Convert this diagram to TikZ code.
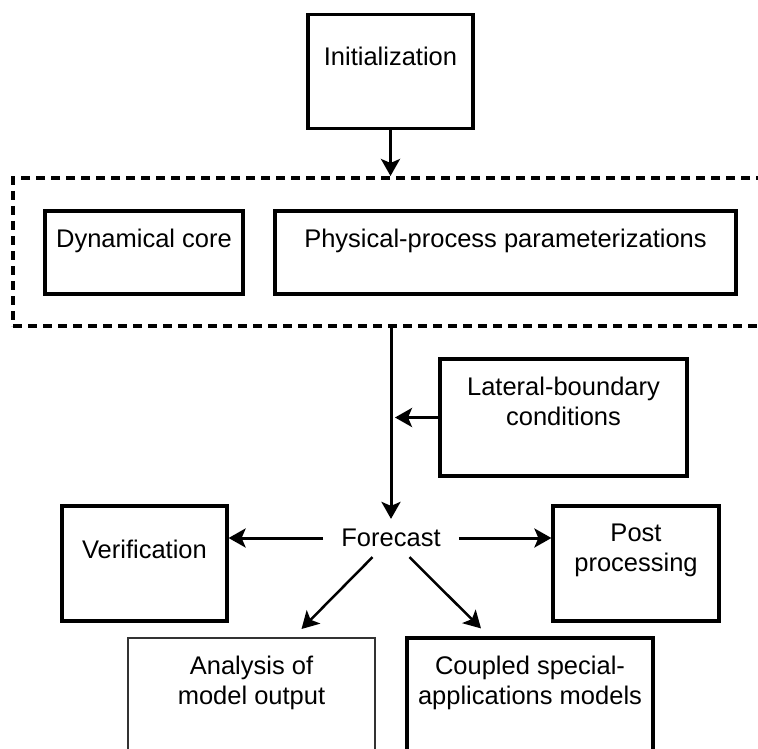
\documentclass[tikz,border=0pt]{standalone}
\usepackage{fontspec}
\setmainfont{Liberation Sans}
\usetikzlibrary{arrows.meta, calc}
\tikzset{%
>={Stealth[length=17pt,width=19pt,inset=4pt]},
% Specifications for style of nodes:
base/.style = {draw, line width=3.2pt, inner sep=0pt},
thinbase/.style = {draw=black!80, line width=2pt, inner sep=0pt},
group/.style = {draw, line width=4pt, dash pattern=on 9pt off 6pt, inner sep=0pt},
caption/.style = {anchor=north, align=center, inner sep=0pt},
flow/.style = {->, line width=3pt},
}

\begin{document}
\begin{tikzpicture}[
        x=1pt, y=-1pt,
        every node/.style={font=\fontsize{25.5}{30}\selectfont},
    ]
    \useasboundingbox (0,0) rectangle (758,749);
    \clip (0,0) rectangle (758,749);
    \fill[white] (0,0) rectangle (758,749);

    % Specification of nodes (position, etc.)
    \node (init) [base, minimum width=165pt, minimum height=114pt, label={[caption, yshift=-34pt]north:Initialization}] at (390.5,71.5) {};
    \node (model) [group, minimum width=767pt, minimum height=148pt] at (396.5,252) {};
    \node (dyn) [base, minimum width=198pt, minimum height=83pt, label={[caption, yshift=-19pt]north:Dynamical core}] at (144,252.5) {};
    \node (phys) [base, minimum width=461pt, minimum height=83pt, label={[caption, yshift=-19pt]north:Physical-process parameterizations}] at (505.5,252.5) {};
    \node (lat) [base, minimum width=247pt, minimum height=117pt, label={[caption, yshift=-19pt]north:Lateral-boundary\\conditions}] at (563.5,417.5) {};
    \node (fcst) [inner xsep=18pt, inner ysep=10pt] at (391,538) {Forecast};
    \node (verif) [base, minimum width=165pt, minimum height=115pt, label={[caption, yshift=-35pt]north:Verification}] at (144.5,563.5) {};
    \node (post) [base, minimum width=166pt, minimum height=115pt, label={[caption, yshift=-19pt]north:Post\\processing}] at (636,563.5) {};
    \node (anal) [thinbase, minimum width=247pt, minimum height=132pt, label={[caption, yshift=-19pt]north:Analysis of\\model output}] at (251.5,704) {};
    \node (coup) [base, minimum width=246pt, minimum height=132pt, label={[caption, yshift=-19pt]north:Coupled special-\\applications models}] at (530,704) {};

    \draw [flow] (init.south) -- (init.south |- model.north);
    \draw [flow] (fcst.north |- model.south) -- (fcst.north);
    \draw [flow] (lat.west) -- ($(lat.west -| fcst.north)+(4,0)$);
    \draw [flow] (fcst.west) -- (fcst.west -| verif.east);
    \draw [flow] (fcst.east) -- (fcst.east -| post.west);
    \draw [->, line width=2.5pt] (fcst.226) -- ($(anal.north)+(50,-8)$);
    \draw [->, line width=2.5pt] (fcst.314) -- ($(coup.north)+(-49,-8)$);
\end{tikzpicture}
\end{document}
